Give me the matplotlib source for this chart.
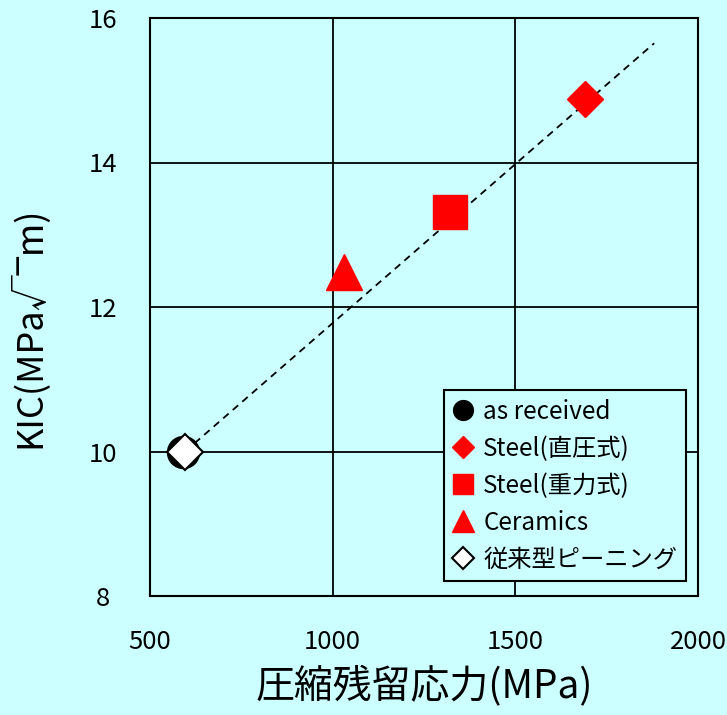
import matplotlib
matplotlib.use("Agg")
import matplotlib.pyplot as plt

plt.rcParams['font.family'] = ['Noto Sans CJK JP', 'DejaVu Sans']

# data
labels = ['as received', 'Steel(直圧式)', 'Steel(重力式)', 'Ceramics', '従来型ピーニング']
stress = [590, 1690, 1322, 1030, 596]
kic = [10.0, 14.88, 13.32, 12.48, 10.0]
trend_x = [596, 1880]
trend_y = [10.0, 15.65]
xticks = [500, 1000, 1500, 2000]
yticks = [8, 10, 12, 14, 16]

bg = '#CCFFFF'
fig = plt.figure(figsize=(7.27, 7.15), dpi=100, facecolor=bg)
ax = fig.add_axes([150/727, 1-596/715, 548/727, (596-18)/715], facecolor=bg)

ax.set_xlim(500, 2000)
ax.set_ylim(8, 16)
ax.set_xticks(xticks)
ax.set_yticks(yticks)
ax.grid(True, color='black', linewidth=1.3)
ax.set_axisbelow(True)
for s in ax.spines.values():
    s.set_linewidth(1.5)
    s.set_color('black')
ax.tick_params(length=0, labelsize=18.5)
ax.tick_params(axis='x', pad=24)
ax.tick_params(axis='y', pad=34)
for t in ax.get_yticklabels():
    t.set_horizontalalignment('center')

ax.plot(trend_x, trend_y, linestyle=(0, (4, 3)), color='black', linewidth=1.3, zorder=2)

styles = [
    dict(marker='o', color='black', ms=23, mec='black'),
    dict(marker='D', color='red', ms=18, mec='red'),
    dict(marker='s', color='red', ms=24, mec='red'),
    dict(marker='^', color='red', ms=26, mec='red'),
    dict(marker='D', color='white', ms=18, mec='black', mew=1.5),
]
for lab, x, y, st in zip(labels, stress, kic, styles):
    ax.plot([x], [y], linestyle='none', marker=st['marker'], markersize=st['ms'],
            markerfacecolor=st['color'], markeredgecolor=st['mec'],
            markeredgewidth=st.get('mew', 1.0), label=lab, zorder=3)

leg = ax.legend(loc='lower right', bbox_to_anchor=(0.9775, 0.026), fontsize=17.5,
                markerscale=0.62, handlelength=0.8, handletextpad=0.45,
                labelspacing=0.45, borderpad=0.35, borderaxespad=0,
                frameon=True, fancybox=False,
                facecolor=bg, edgecolor='black', framealpha=1)
leg.get_frame().set_linewidth(1.5)

ax.set_xlabel('圧縮残留応力(MPa)', fontsize=28, labelpad=7)
ax.set_ylabel('KIC(MPa√‾m)', fontsize=26)
ax.yaxis.set_label_coords(-0.185, 0.465)

fig.savefig('out.png', dpi=100, facecolor=bg)
